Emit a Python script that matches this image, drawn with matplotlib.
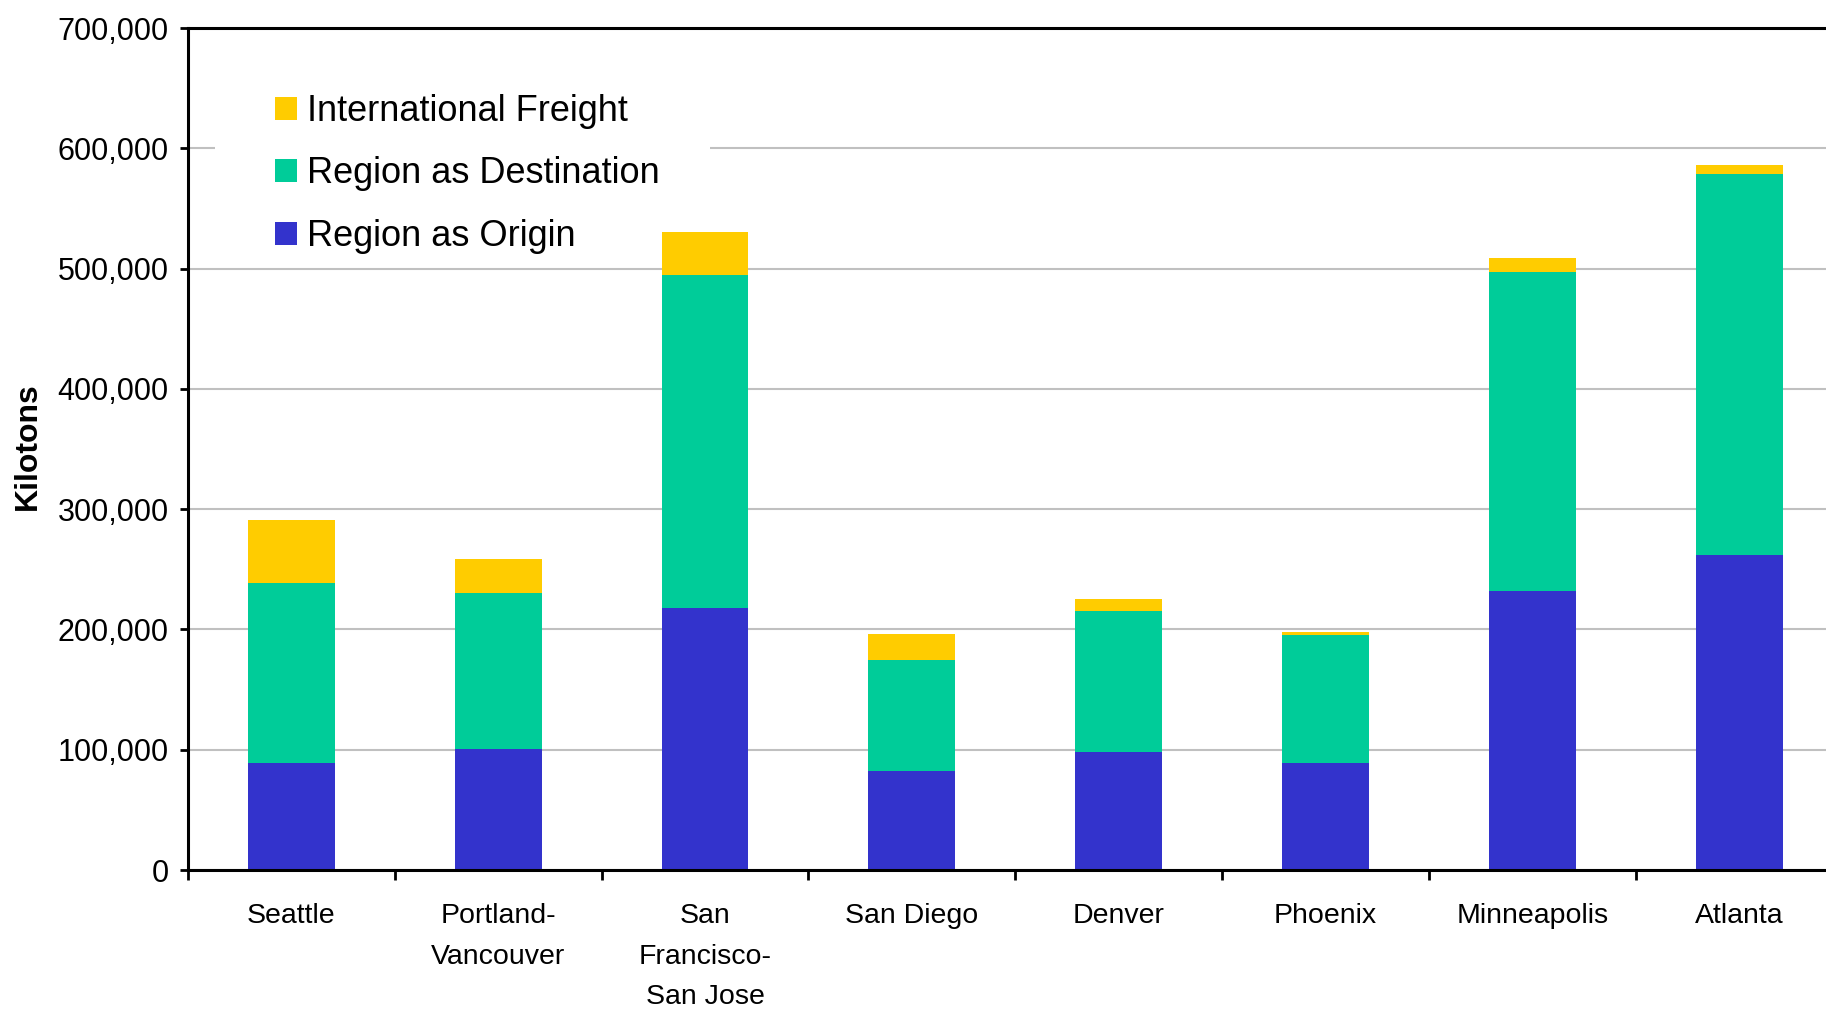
import matplotlib
matplotlib.use("Agg")
import matplotlib.pyplot as plt
import numpy as np
from matplotlib.patches import Rectangle
from matplotlib.ticker import FuncFormatter, FixedLocator

plt.rcParams['font.family'] = ['Liberation Sans', 'DejaVu Sans']

regions = ["Seattle", "Portland-\nVancouver", "San\nFrancisco-\nSan Jose", "San Diego",
           "Denver", "Phoenix", "Minneapolis", "Atlanta"]
origin = [89000, 101000, 218000, 82000, 98000, 89000, 232000, 262000]
destination = [150000, 129000, 277000, 93000, 117000, 106500, 265500, 316700]
international = [52000, 28300, 35000, 20800, 10000, 2500, 11500, 7400]

series_names = ["Region as Origin", "Region as Destination", "International Freight"]
colors = ["#3333CC", "#00CC99", "#FFCC00"]

W, H = 1826, 1010
fig = plt.figure(figsize=(W / 100, H / 100), dpi=100)
ax_left, ax_bottom = 188 / W, 1 - 870 / H
ax_w, ax_h = 1654.6 / W, (870 - 28) / H
ax = fig.add_axes([ax_left, ax_bottom, ax_w, ax_h])

x = np.arange(len(regions))
bw = 0.42
bottom = np.zeros(len(regions))
handles = []
for vals, name, c in zip([origin, destination, international], series_names, colors):
    b = ax.bar(x, vals, bw, bottom=bottom, color=c, label=name, zorder=2, linewidth=0)
    handles.append(b)
    bottom += np.array(vals)

ax.set_xlim(-0.5, len(regions) - 0.5)
ax.set_ylim(0, 700000)
ax.set_yticks(np.arange(0, 700001, 100000))
ax.yaxis.set_major_formatter(FuncFormatter(lambda v, p: f"{int(v):,}"))
ax.set_axisbelow(True)
ax.yaxis.grid(True, color="#C0C0C0", linewidth=1.5, zorder=0)

ax.set_xticks(x)
ax.set_xticklabels(regions, fontsize=20.5, linespacing=1.72, va="top")
ax.xaxis.set_minor_locator(FixedLocator(np.arange(-0.5, len(regions), 1.0)))
ax.tick_params(axis="x", which="major", length=0, pad=24)
ax.tick_params(axis="x", which="minor", length=7, width=2, color="black", direction="out")
ax.tick_params(axis="y", length=6, width=2, labelsize=22, pad=8, direction="out")

for s in ["left", "bottom", "top"]:
    ax.spines[s].set_linewidth(2.2)
    ax.spines[s].set_color("black")
ax.spines["right"].set_visible(False)

fig.text(28 / W, 1 - 446 / H, "Kilotons", rotation=90, ha="center", va="center",
         fontsize=23, fontweight="bold")

# white backing behind the legend
x0 = (215 - 188) / 1654.6
x1 = (710 - 188) / 1654.6
ax.add_patch(Rectangle((x0, 0.80), x1 - x0, 0.18, transform=ax.transAxes,
                       facecolor="white", edgecolor="none", zorder=1))

leg = ax.legend(handles[::-1], series_names[::-1], loc="upper left",
                bbox_to_anchor=(275 / W, 1 - 94 / H), bbox_transform=fig.transFigure,
                frameon=False, fontsize=26, handlelength=0.6, handleheight=0.6,
                handletextpad=0.28, labelspacing=0.76, borderaxespad=0, borderpad=0)
leg.set_zorder(5)

fig.savefig("out.png", dpi=100)
